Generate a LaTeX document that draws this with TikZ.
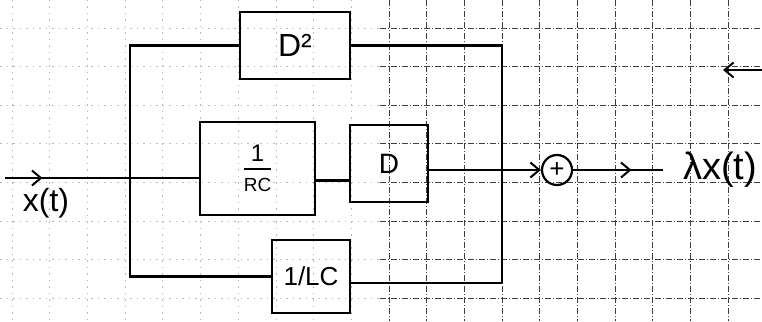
\documentclass[tikz,border=0pt]{standalone}
\usepackage{fontspec}
\setmainfont{Liberation Sans}
\usetikzlibrary{arrows.meta,decorations.markings}
\tikzset{
  wire/.style={line width=2.6pt, black},
  blockbox/.style={draw, line width=2.6pt, inner sep=0pt, font=\fontsize{32}{34}\selectfont},
  sumnode/.style={draw, circle, line width=2.2pt, minimum size=30pt, inner sep=0pt, font=\fontsize{26}{28}\selectfont},
  gridfaint/.style={gray!55, line width=0.8pt, dash pattern=on 1.5pt off 5pt},
  gridmain/.style={black!75, line width=0.9pt, dash pattern=on 6pt off 2pt on 1pt off 2pt},
  tip/.style={-{Straight Barb[length=9pt,width=15pt,line width=2pt]}},
  midtip/.style={postaction={decorate}, decoration={markings,
     mark=at position #1 with {\arrow{Straight Barb[length=9pt,width=15pt,line width=2pt]}}}},
  lbl/.style={font=\fontsize{32}{34}\selectfont, inner sep=0pt}
}
\begin{document}
\begin{tikzpicture}[x=1pt,y=-1pt]
\useasboundingbox (0,0) rectangle (762,321);
\clip (0,0) rectangle (762,321);
% grid paper
\foreach \k in {0,...,9} {
  \draw[gridfaint] ({12+37.7*\k},0) -- ({12+37.7*\k},321);
}
\foreach \k in {10,...,20} {
  \draw[gridmain] ({12+37.7*\k},0) -- ({12+37.7*\k},321);
}
\foreach \k in {0,...,7} {
  \draw[gridfaint] (0,{28+38.6*\k}) -- (380,{28+38.6*\k});
  \draw[gridmain] (380,{28+38.6*\k}) -- (762,{28+38.6*\k});
}
% blocks
\node[blockbox, minimum width=110pt, minimum height=67pt] (d2) at (295,45.5) {D²};
\node[blockbox, minimum width=115pt, minimum height=93pt] (rc) at (257.5,168.5)
  {${\mbox{\rule[-5pt]{0pt}{0pt}\fontsize{24}{24}\selectfont 1}\above 1.8pt \mbox{\rule{0pt}{20pt}\fontsize{19}{20}\selectfont RC}}$};
\node[blockbox, minimum width=78pt, minimum height=77pt, font=\fontsize{28}{30}\selectfont] (d) at (389,163.5) {D};
\node[blockbox, minimum width=78pt, minimum height=73pt, font=\fontsize{26}{28}\selectfont] (lc) at (311,276.5) {1/LC};
\node[sumnode] (sum) at (557,170) {+};
% coordinates
\coordinate (in) at (5,178);
\coordinate (split) at (130,178);
\coordinate (jt) at (502,45.5);
\coordinate (jb) at (502,283);
\coordinate (out) at (663,170);
\coordinate (fbstart) at (762,70);
\coordinate (fbend) at (723,70);
% input
\draw[wire, midtip=0.3] (in) -- (split);
\draw[wire] (split) -- (split -| rc.west);
\node[lbl, anchor=north] (xt) at (46,188) {x(t)};
% top branch
\draw[wire] (split) |- (d2.west);
\draw[wire] (d2.east) -| (jb);
% bottom branch
\draw[wire] (split) |- (lc.west);
\draw[wire] (lc.east |- jb) -- (jb);
% middle branch
\draw[wire] ([yshift=-12pt]rc.east) -- ([yshift=-12pt]rc.east -| d.west);
\draw[wire, tip] (d.east |- sum) -- (sum.west);
% output
\draw[wire, midtip=0.65] (sum.east) -- (out);
\node[font=\fontsize{38}{40}\selectfont, inner sep=0pt, anchor=west] (y) at (683,170) {λx(t)};
% feedback arrow on the right
\draw[wire, tip] (fbstart) -- (fbend);
\end{tikzpicture}
\end{document}
